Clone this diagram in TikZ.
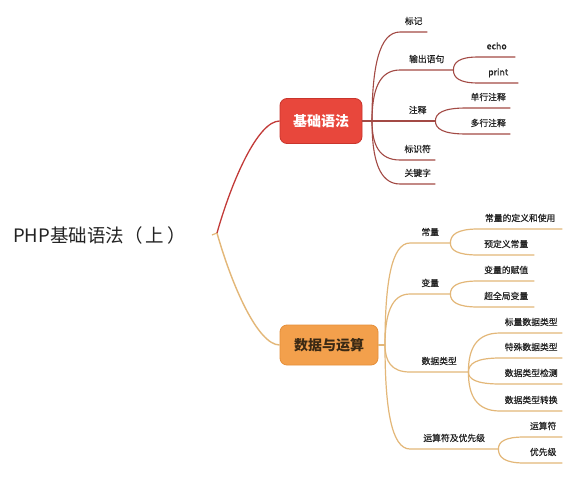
\documentclass[tikz,border=0pt]{standalone}
\usepackage{fontspec}
\setmainfont{Noto Sans CJK SC}
\newfontfamily\leaffont[FakeBold=0.6]{Noto Sans CJK SC}
\usetikzlibrary{positioning,calc}
\definecolor{redfill}{HTML}{E8473C}
\definecolor{rededge}{HTML}{C9352C}
\definecolor{redln}{HTML}{A34A45}
\definecolor{rootred}{HTML}{C23A38}
\definecolor{orgfill}{HTML}{F3A04C}
\definecolor{orgedge}{HTML}{E58F3A}
\definecolor{orgln}{HTML}{E3B778}
\definecolor{inkc}{HTML}{222222}
\definecolor{orgtxt}{HTML}{3A2914}

\tikzset{
  fan/.style={to path={.. controls ($(\tikztostart)!0.6!(\tikztostart|-\tikztotarget)$) and ($(\tikztostart|-\tikztotarget)!0.25!(\tikztotarget)$) .. (\tikztotarget) \tikztonodes}},
  leaf/.style={anchor=south west, inner xsep=0pt, inner ysep=6pt, text height=7pt, text depth=1.5pt,
    font=\leaffont\fontsize{8.8}{10}\selectfont, text=inkc},
  rline/.style={draw=redln, line width=1.1pt},
  oline/.style={draw=orgln, line width=1.2pt},
  topic/.style={rounded corners=7pt, line width=0.8pt, font=\fontsize{14}{16}\selectfont\bfseries}
}

\begin{document}
\begin{tikzpicture}[x=1pt,y=-1pt]
\useasboundingbox[fill=white] (0,0) rectangle (581,490);

% root and the two main topics
\node[anchor=west, inner sep=0pt, font=\fontsize{18.5}{22}\selectfont, text=inkc] (root) at (13,235) {PHP基础语法（\,上\,）};
\coordinate (hub) at (217,233);
\node[topic, fill=redfill, draw=rededge, text=white, minimum width=82pt, minimum height=45pt] (basic) at (321,121) {基础语法};
\node[topic, fill=orgfill, draw=orgedge, text=orgtxt, minimum width=98pt, minimum height=40pt] (calc) at (329,345) {数据与运算};
\coordinate (redhub) at (372,121);
\coordinate (orghub) at (385,345);

\draw[oline] ([xshift=26pt]root.east) -- (hub);
\draw[draw=rootred, line width=1.3pt] (hub) .. controls (232,180) and (258,121) .. (basic.west);
\draw[oline, line width=1.4pt] (hub) .. controls (232,286) and (258,345) .. (calc.west);
\draw[rline] (basic.east) -- (redhub);
\draw[oline] (calc.east) -- (orghub);

% red branch
\foreach \nm/\up/\xa/\xb/\yy/\txt in {
  bj/redhub/400/427/32/标记, sc/redhub/400/453/70/输出语句, zs/redhub/400/435/121/注释,
  bsf/redhub/400/435/160/标识符, gjz/redhub/400/435/184/关键字,
  echo/sc.south east/478/515/57/echo, print/sc.south east/478/518/83/print,
  dhzs/zs.south east/466/510/108/单行注释, ddzs/zs.south east/466/510/134/多行注释} {
  \node[leaf, minimum width={(\xb-\xa)*1pt}] (\nm) at (\xa,\yy) {\txt};
  \draw[rline] (\up) to[fan] (\nm.south west) -- (\nm.south east);
}

% orange branch
\foreach \nm/\up/\xa/\xb/\yy/\txt in {
  cl/orghub/410/450/243/常量, bl/orghub/410/450/294/变量,
  lx/orghub/410/468/372/数据类型, ysf/orghub/410/498/449/运算符及优先级,
  cldy/cl.south east/478/562/229/常量的定义和使用, yddy/cl.south east/478/534/255/预定义常量,
  blfz/bl.south east/478/534/281/变量的赋值, cqj/bl.south east/478/534/307/超全局变量,
  blx/lx.south east/500/562/333/标量数据类型, tsx/lx.south east/500/562/358/特殊数据类型,
  jcx/lx.south east/500/562/384/数据类型检测, zhx/lx.south east/500/562/411/数据类型转换,
  ysu/ysf.south east/524/562/437/运算符, yxj/ysf.south east/524/562/463/优先级} {
  \node[leaf, minimum width={(\xb-\xa)*1pt}] (\nm) at (\xa,\yy) {\txt};
  \draw[oline] (\up) to[fan] (\nm.south west) -- (\nm.south east);
}
\end{tikzpicture}
\end{document}
